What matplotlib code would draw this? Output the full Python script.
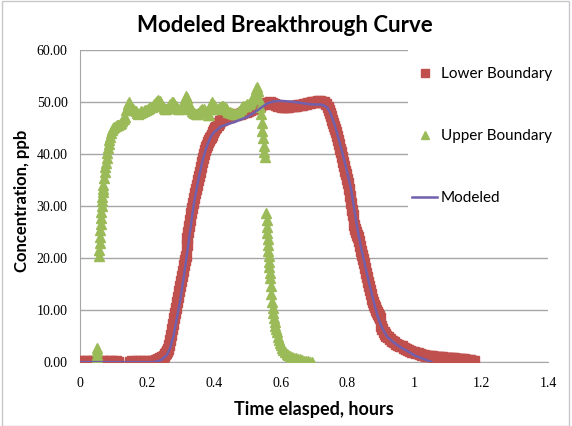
import matplotlib.pyplot as plt
from matplotlib.patches import Rectangle

# Lower boundary (red squares)
lower_t = [0.000, 0.006, 0.012, 0.018, 0.024, 0.030, 0.036, 0.042, 0.048, 0.054,
           0.060, 0.066, 0.072, 0.078, 0.084, 0.090, 0.096, 0.102, 0.108, 0.114,
           0.150, 0.156, 0.162, 0.168, 0.174, 0.180, 0.186, 0.192, 0.198, 0.204,
           0.210, 0.216, 0.222, 0.228, 0.234, 0.240, 0.246,
           0.249, 0.252, 0.255, 0.258, 0.261, 0.264, 0.267, 0.270, 0.273, 0.276,
           0.279, 0.282, 0.285, 0.288, 0.291, 0.294, 0.297, 0.300, 0.303, 0.306,
           0.309, 0.312, 0.315, 0.318, 0.319, 0.321, 0.324, 0.327, 0.330, 0.333,
           0.336, 0.339, 0.342, 0.345, 0.348, 0.351, 0.354, 0.357, 0.360, 0.363,
           0.366, 0.369, 0.372, 0.375, 0.378, 0.381, 0.384, 0.387, 0.390, 0.393,
           0.396, 0.399, 0.402, 0.405, 0.408, 0.412, 0.416, 0.420, 0.424, 0.430,
           0.436, 0.442, 0.448, 0.454, 0.460, 0.466, 0.472, 0.478, 0.484, 0.490,
           0.496, 0.502, 0.508, 0.514, 0.520, 0.526, 0.532, 0.538, 0.544, 0.550,
           0.556, 0.562, 0.568, 0.574, 0.580, 0.586, 0.592, 0.598, 0.604, 0.610,
           0.616, 0.622, 0.628, 0.634, 0.640, 0.646, 0.652, 0.658, 0.664, 0.670,
           0.676, 0.682, 0.688, 0.694, 0.700, 0.706, 0.712, 0.718, 0.724, 0.730,
           0.736, 0.742, 0.746, 0.749, 0.752, 0.755, 0.758, 0.761, 0.764, 0.767,
           0.770, 0.773, 0.776, 0.779, 0.782, 0.785, 0.788, 0.791, 0.794, 0.797,
           0.800, 0.803, 0.806, 0.809, 0.812, 0.815, 0.817, 0.820, 0.823, 0.826,
           0.829, 0.832, 0.835, 0.838, 0.841, 0.844, 0.847, 0.850, 0.853, 0.856,
           0.859, 0.862, 0.865, 0.868, 0.871, 0.874, 0.877, 0.880, 0.883, 0.886,
           0.889, 0.892, 0.895, 0.898, 0.900, 0.904, 0.908, 0.912, 0.916, 0.920,
           0.926, 0.932, 0.938, 0.944, 0.950, 0.956, 0.962, 0.968, 0.974, 0.980,
           0.986, 0.992, 0.998, 1.004, 1.010, 1.016, 1.022, 1.028, 1.034, 1.040,
           1.046, 1.052, 1.058, 1.064, 1.070, 1.076, 1.082, 1.088, 1.094, 1.100,
           1.106, 1.112, 1.118, 1.124, 1.130, 1.136, 1.142, 1.148, 1.154, 1.160,
           1.166, 1.172, 1.178]
lower_c = [0.2, 0.1, 0.3, 0.0, 0.2, 0.1, 0.3, 0.2, 0.0, 0.3,
           0.1, 0.2, 0.3, 0.1, 0.0, 0.2, 0.3, 0.1, 0.2, 0.1,
           0.1, 0.2, 0.0, 0.3, 0.1, 0.2, 0.1, 0.3, 0.0, 0.2,
           0.1, 0.3, 0.2, 0.4, 0.5, 0.7, 0.9,
           1.0, 1.2, 1.5, 1.8, 2.1, 2.5, 3.3, 4.2, 5.2, 6.3,
           7.4, 8.4, 9.4, 10.4, 11.5, 12.6, 13.6, 14.6, 15.6, 16.6,
           17.6, 18.6, 19.6, 20.4, 22.5, 23.8, 25.0, 26.2, 27.4, 28.6,
           29.6, 30.5, 31.5, 32.4, 33.3, 34.1, 34.9, 35.7, 36.5, 37.4,
           38.4, 39.3, 40.0, 40.7, 41.3, 41.8, 42.3, 42.7, 43.0, 43.2,
           43.7, 44.2, 44.6, 45.0, 45.2, 45.6, 46.0, 46.3, 46.5, 46.7,
           46.9, 47.0, 47.1, 47.3, 47.4, 47.5, 47.6, 47.7, 47.9, 48.0,
           48.1, 48.3, 48.4, 48.6, 48.8, 49.0, 49.2, 49.3, 49.5, 49.6,
           49.7, 49.8, 49.9, 49.8, 49.6, 49.4, 49.3, 49.2, 49.1, 49.1,
           49.0, 49.1, 49.2, 49.2, 49.3, 49.3, 49.4, 49.4, 49.4, 49.5,
           49.6, 49.7, 49.8, 49.9, 50.0, 50.0, 50.1, 50.1, 50.0, 49.9,
           49.6, 49.1, 48.5, 47.8, 47.3, 46.6, 46.0, 45.4, 44.8, 44.2,
           43.5, 42.7, 41.9, 41.0, 40.3, 39.5, 38.5, 37.6, 36.8, 36.1,
           35.2, 34.4, 33.3, 32.0, 30.5, 29.2, 28.2, 26.3, 25.6, 25.0,
           24.4, 24.1, 23.2, 22.3, 21.4, 20.6, 19.8, 19.0, 18.1, 17.2,
           16.3, 15.4, 14.6, 13.8, 13.0, 12.2, 11.5, 11.0, 10.5, 10.1,
           9.7, 9.3, 8.9, 8.5, 6.9, 6.3, 5.8, 5.4, 5.1, 4.8,
           4.4, 4.1, 3.8, 3.5, 3.3, 3.1, 3.0, 2.8, 2.6, 2.4,
           2.2, 2.0, 1.9, 1.8, 1.7, 1.6, 1.4, 1.3, 1.2, 1.2,
           1.1, 1.1, 1.0, 1.0, 0.9, 0.9, 0.9, 0.8, 0.8, 0.8,
           0.7, 0.7, 0.7, 0.6, 0.6, 0.5, 0.5, 0.5, 0.4, 0.4,
           0.4, 0.3, 0.3]

# Upper boundary (green triangles)
upper_t = [0.049, 0.050, 0.050, 0.051, 0.051,
           0.057, 0.058, 0.059, 0.060, 0.061, 0.062, 0.063, 0.064, 0.065, 0.066,
           0.067, 0.068, 0.069, 0.070, 0.072, 0.074, 0.076, 0.078, 0.080, 0.082,
           0.084, 0.086, 0.088, 0.090, 0.093, 0.096, 0.099, 0.102, 0.106, 0.110,
           0.114, 0.118, 0.122, 0.126, 0.130, 0.134, 0.138, 0.142, 0.146, 0.150,
           0.154, 0.158, 0.162, 0.166, 0.170, 0.174, 0.178, 0.182, 0.186, 0.190,
           0.194, 0.198, 0.202, 0.206, 0.210, 0.214, 0.218, 0.222, 0.226, 0.230,
           0.234, 0.238, 0.242, 0.246, 0.250, 0.254, 0.258, 0.262, 0.266, 0.270,
           0.274, 0.278, 0.282, 0.286, 0.290, 0.294, 0.298, 0.302, 0.306, 0.310,
           0.314, 0.318, 0.321, 0.324, 0.327, 0.330, 0.334, 0.338, 0.342, 0.346,
           0.350, 0.354, 0.358, 0.362, 0.366, 0.370, 0.374, 0.378, 0.382, 0.386,
           0.390, 0.393, 0.396, 0.400, 0.404, 0.408, 0.412, 0.416, 0.420, 0.424,
           0.428, 0.432, 0.436, 0.440, 0.444, 0.448, 0.452, 0.456, 0.460, 0.464,
           0.468, 0.472, 0.476, 0.480, 0.484, 0.488, 0.492, 0.496, 0.500, 0.504,
           0.508, 0.512, 0.516, 0.520, 0.524, 0.527, 0.530, 0.533, 0.536, 0.539,
           0.541, 0.543, 0.545, 0.547, 0.549, 0.551, 0.553,
           0.557, 0.558, 0.559, 0.560, 0.561, 0.562, 0.563, 0.564, 0.565, 0.566,
           0.567, 0.568, 0.570, 0.572, 0.574, 0.576, 0.578, 0.580, 0.582, 0.584,
           0.586, 0.588, 0.591, 0.594, 0.597, 0.600, 0.604, 0.608, 0.613, 0.618,
           0.623, 0.628, 0.634, 0.640, 0.646, 0.652, 0.658, 0.664, 0.670, 0.676,
           0.682, 0.688, 0.694]
upper_c = [0.0, 0.7, 1.4, 2.1, 2.8,
           20.3, 21.5, 22.8, 24.0, 25.3, 26.5, 27.7, 28.8, 29.9, 30.9,
           31.8, 32.6, 33.3, 34.0, 35.3, 36.5, 37.5, 38.3, 39.2, 40.2,
           41.2, 42.0, 42.7, 43.3, 44.1, 44.6, 45.0, 45.2, 45.3, 45.5,
           45.6, 45.8, 46.0, 46.3, 46.7, 47.1, 48.5, 49.5, 49.9, 49.3,
           48.9, 48.6, 48.5, 48.3, 47.9, 47.7, 47.9, 48.2, 48.0, 48.3,
           48.5, 48.4, 48.6, 48.8, 49.0, 49.1, 49.3, 49.6, 49.9, 50.2,
           50.3, 50.1, 49.6, 49.2, 48.8, 48.7, 48.6, 48.9, 49.2, 49.6,
           49.9, 50.0, 49.6, 49.2, 48.9, 48.7, 48.6, 48.8, 49.3, 50.0,
           50.6, 51.2, 50.7, 49.9, 49.2, 48.6, 48.3, 48.0, 47.8, 47.6,
           47.7, 47.9, 48.2, 48.5, 48.7, 48.6, 48.2, 47.8, 47.4, 47.5,
           48.6, 49.6, 49.9, 49.4, 49.0, 48.7, 48.6, 48.8, 49.0, 49.2,
           49.3, 49.1, 48.8, 48.4, 48.1, 48.0, 47.9, 47.8, 47.7, 47.7,
           47.6, 47.8, 48.2, 48.6, 49.0, 49.3, 49.2, 49.3, 49.5, 49.6,
           49.8, 50.2, 50.7, 51.1, 51.8, 52.5, 52.9, 52.0, 50.5, 49.0,
           47.7, 46.0, 44.4, 43.0, 41.6, 40.4, 39.4,
           28.6, 27.3, 26.0, 24.8, 23.6, 22.5, 21.4, 20.3, 19.2, 18.2,
           17.2, 16.2, 14.6, 13.0, 11.6, 10.4, 9.4, 8.5, 7.7, 7.0,
           6.3, 5.7, 4.9, 4.2, 3.6, 3.2, 2.8, 2.4, 2.0, 1.6,
           1.3, 1.1, 0.9, 0.8, 0.7, 0.6, 0.5, 0.4, 0.3, 0.2,
           0.2, 0.1, 0.0]

# Modeled curve
model_t = [0.00, 0.10, 0.20, 0.22, 0.24, 0.25, 0.26, 0.27, 0.28, 0.29,
           0.30, 0.31, 0.32, 0.33, 0.34, 0.35, 0.36, 0.37, 0.38, 0.39,
           0.40, 0.42, 0.44, 0.46, 0.48, 0.50, 0.52, 0.54, 0.56, 0.58,
           0.60, 0.62, 0.64, 0.66, 0.68, 0.70, 0.72, 0.73, 0.74, 0.75,
           0.76, 0.77, 0.78, 0.79, 0.80, 0.81, 0.82, 0.83, 0.84, 0.85,
           0.86, 0.87, 0.88, 0.89, 0.90, 0.91, 0.92, 0.94, 0.96, 0.98,
           1.00, 1.02, 1.04, 1.05]
model_c = [0.0, 0.0, 0.0, 0.0, 0.3, 0.8, 1.4, 2.8, 5.2, 8.6,
           12.0, 16.2, 20.8, 25.6, 30.2, 33.8, 36.9, 39.6, 41.6, 43.2,
           44.1, 45.2, 45.7, 46.1, 46.6, 47.1, 47.9, 48.8, 49.7, 50.1,
           50.2, 50.1, 50.0, 49.8, 49.6, 49.5, 49.5, 49.3, 48.9, 47.7,
           45.9, 43.8, 41.4, 38.9, 36.3, 33.5, 29.5, 25.6, 22.2, 19.3,
           16.5, 13.8, 11.2, 8.9, 7.1, 5.8, 4.8, 3.7, 2.8, 2.1,
           1.3, 0.8, 0.3, 0.1]

xticks = [0, 0.2, 0.4, 0.6, 0.8, 1, 1.2, 1.4]
xtick_labels = ['0', '0.2', '0.4', '0.6', '0.8', '1', '1.2', '1.4']
yticks = [0, 10, 20, 30, 40, 50, 60]
ytick_labels = ['0.00', '10.00', '20.00', '30.00', '40.00', '50.00', '60.00']

grid_color = '#a6a6a6'

fig = plt.figure(figsize=(5.72, 4.26), dpi=100)
ax = fig.add_axes([0.14, 0.150, 0.818, 0.733])

ax.plot(lower_t, lower_c, linestyle='none', marker='s', markersize=6.5,
        color='#c0504d', label='Lower Boundary', zorder=3)
ax.plot(upper_t, upper_c, linestyle='none', marker='^', markersize=7,
        color='#9bbb59', label='Upper Boundary', zorder=4)
ax.plot(model_t, model_c, color='#7160ad', linewidth=1.8,
        label='Modeled', zorder=5)

ax.set_xlim(0, 1.4)
ax.set_ylim(0, 60)
ax.set_xticks(xticks)
ax.set_xticklabels(xtick_labels, family='Liberation Serif', fontsize=10)
ax.set_yticks(yticks)
ax.set_yticklabels(ytick_labels, family='Liberation Serif', fontsize=10)
ax.tick_params(length=0, pad=9)
ax.tick_params(axis='x', pad=11)

ax.grid(axis='y', color=grid_color, linewidth=1)
ax.set_axisbelow(True)
for s in ['top', 'right']:
    ax.spines[s].set_visible(False)
for s in ['left', 'bottom']:
    ax.spines[s].set_color(grid_color)

fig.text(285 / 572, 1 - 25 / 426, 'Modeled Breakthrough Curve', family='Lato',
         fontweight='bold', fontsize=16, ha='center', va='center')
ax.set_xlabel('Time elasped, hours', family='Lato', fontweight='bold',
              fontsize=13, labelpad=8)
fig.text(22 / 572, 1 - 201 / 426, 'Concentration, ppb', family='Lato',
         fontweight='bold', fontsize=12, rotation=90, ha='center', va='center')

# white legend area covering the gridlines
fig.patches.append(Rectangle((408 / 572, 1 - 232 / 426), 155 / 572, 188 / 426,
                             transform=fig.transFigure, facecolor='white',
                             edgecolor='none', zorder=1))
leg = fig.legend(loc='upper left', bbox_to_anchor=(412 / 572, 1 - 67 / 426),
                 frameon=False, prop={'family': 'Lato', 'size': 11},
                 handlelength=1.65, handletextpad=0.25, labelspacing=3.15,
                 borderpad=0, borderaxespad=0, markerscale=0.9)
leg.set_zorder(6)

# outer chart border
fig.patches.append(Rectangle((2 / 572, 0.5 / 426), 567 / 572, 425 / 426,
                             transform=fig.transFigure, facecolor='none',
                             edgecolor='#c8c8c8', linewidth=1))

fig.savefig('out.png', dpi=100)
